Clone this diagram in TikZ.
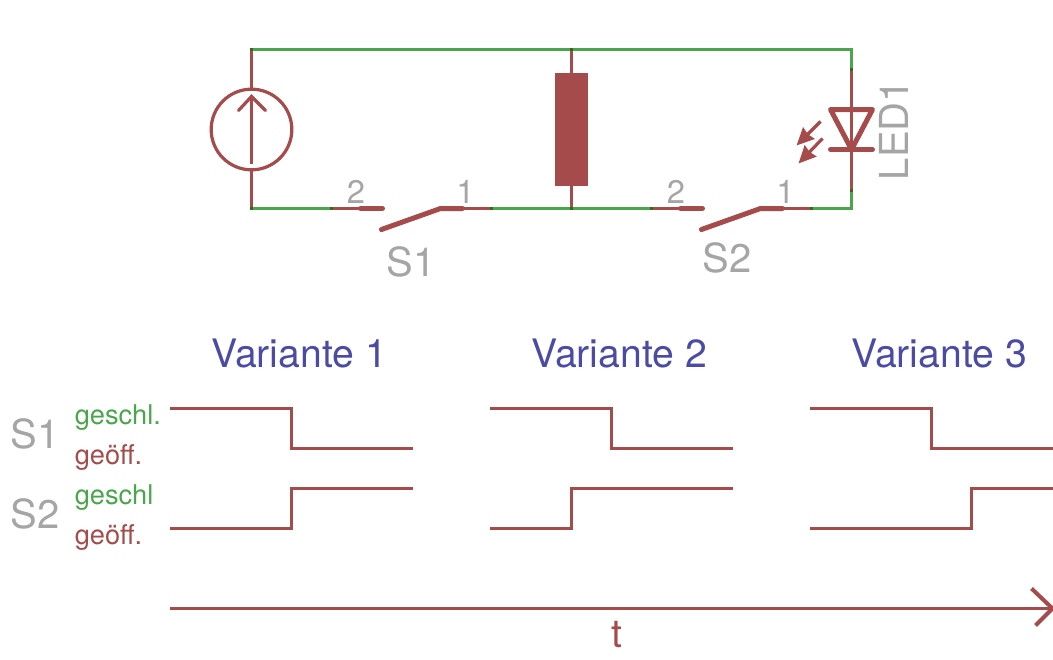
\documentclass[tikz,border=0pt]{standalone}
\usepackage{fontspec}
\setmainfont{TeX Gyre Heros}
\usetikzlibrary{positioning,arrows.meta}
\definecolor{netgreen}{HTML}{4BA54B}
\definecolor{symred}{HTML}{A54B4B}
\definecolor{namegray}{HTML}{A5A5A5}
\definecolor{headblue}{HTML}{4B4BA5}
\definecolor{pindark}{HTML}{2F6A1F}
\begin{document}
\begin{tikzpicture}[x=0.75pt,y=-0.75pt,
    wire/.style={draw=netgreen, line width=2.4pt},
    lead/.style={draw=symred, line width=2.4pt},
    contact/.style={draw=symred, line width=3.75pt, line cap=round},
    signal/.style={draw=symred, line width=2.4pt},
    pin dot/.style={fill=pindark, minimum size=2.4pt, inner sep=0pt},
    name label/.style={text=namegray, font=\fontsize{30}{30}\selectfont, inner sep=0pt, anchor=base west},
    pin label/.style={text=namegray, font=\fontsize{24.5}{24}\selectfont, inner sep=0pt, anchor=base west},
    state label/.style={font=\fontsize{20.4}{20}\selectfont, inner sep=0pt, anchor=base west},
    head label/.style={text=headblue, font=\fontsize{29.4}{29}\selectfont, inner sep=0pt, anchor=base west}]
  \useasboundingbox (-0.5,-0.5) rectangle (1052.5,659.5);

  % corners of the circuit
  \coordinate (tl) at (251,49);
  \coordinate (tm) at (571,49);
  \coordinate (tr) at (851,49);
  \coordinate (bl) at (251,208);
  \coordinate (bm) at (571,208);
  \coordinate (br) at (851,208);

  % source
  \node[circle, draw=symred, line width=2.4pt, minimum size=60.5pt, inner sep=0pt] (source) at (251,129) {};
  \coordinate (sourcetail) at (251,163);
  \coordinate (sourcetip) at (251,96);
  \coordinate (sourcel) at (238,110);
  \coordinate (sourcer) at (265,110);

  % resistor
  \node[rectangle, fill=symred, minimum width=24.75pt, minimum height=84.75pt, inner sep=0pt] (load) at (571,129) {};

  % switches, second one is the first shifted by 320
  \foreach \n/\s in {1/0,2/320} {
    \coordinate (p\n a) at (331+\s,208);
    \coordinate (p\n b) at (360+\s,208);
    \coordinate (p\n c) at (382+\s,208);
    \coordinate (p\n d) at (381+\s,229);
    \coordinate (p\n e) at (440+\s,208);
    \coordinate (p\n f) at (462+\s,208);
    \coordinate (p\n g) at (491+\s,208);
    \path[lead] (p\n a) -- (p\n b);
    \path[contact] (p\n b) -- (p\n c);
    \path[contact] (p\n d) -- (p\n e) -- (p\n f);
    \path[lead] (p\n f) -- (p\n g);
    \node[pin label] (two\n) at (346+\s,203) {2};
    \node[pin label] (one\n) at (455.5+\s,203) {1};
  }
  \node[name label] (s1name) at (386,276) {S1};
  \node[name label] (s2name) at (702,272) {S2};

  % led
  \coordinate (ledtop) at (851,69);
  \coordinate (ledbot) at (851,190);
  \coordinate (ledl) at (830,109);
  \coordinate (ledr) at (872,109);
  \coordinate (ledk) at (851,149);
  \coordinate (barl) at (830,149);
  \coordinate (barr) at (872,149);
  \coordinate (ray1a) at (820,121);
  \coordinate (ray1b) at (796,145);
  \coordinate (ray2a) at (822,138);
  \coordinate (ray2b) at (798,163);
  \node[name label, rotate=90] (ledname) at (908,180) {LED1};

  % nets
  \path[wire] (ledtop) -- (tr) -- (tl);
  \path[wire] (bl) -- (p1a);
  \path[wire] (p1g) -- (p2a);
  \path[wire] (p2g) -- (br) -- (ledbot);
  \path[lead] (tl) -- (source);
  \path[lead] (source) -- (bl);
  \path[lead] (tm) -- (load);
  \path[lead] (load) -- (bm);
  \path[lead] (ledtop) -- (ledbot);
  \path[lead] (sourcetail) -- (sourcetip);
  \path[lead, line cap=round] (sourcel) -- (sourcetip) -- (sourcer);
  \path[contact, line join=round] (ledl) -- (ledr) -- (ledk) -- cycle;
  \path[contact] (barl) -- (barr);
  \path[lead, -{Stealth[inset=1pt,length=13pt,width=12pt]}] (ray1a) -- (ray1b);
  \path[lead, -{Stealth[inset=1pt,length=13pt,width=12pt]}] (ray2a) -- (ray2b);
  \foreach \c in {tl,tm,bl,bm,p1a,p1g,p2a,p2g,ledtop,ledbot}
    \node[pin dot] (dot\c) at (\c) {};

  % timing
  \node[head label] (var1) at (210.5,367) {Variante 1};
  \node[head label] (var2) at (530.5,367) {Variante 2};
  \node[head label] (var3) at (850.5,367) {Variante 3};

  \node[name label] (s1row) at (10,448) {S1};
  \node[name label] (s2row) at (10,528) {S2};
  \node[state label, text=netgreen] (c1) at (74,423.5) {geschl.};
  \node[state label, text=symred] (o1) at (74,463.5) {geöff.};
  \node[state label, text=netgreen] (c2) at (74,503.5) {geschl};
  \node[state label, text=symred] (o2) at (74,543.5) {geöff.};

  \foreach \n/\x/\a/\b in {1/169.5/291/291,2/489.5/611/571,3/809.5/931/971} {
    \coordinate (a\n) at (\x,408);
    \coordinate (b\n) at (\x,528);
    \coordinate (ae\n) at (\x+243,448);
    \coordinate (be\n) at (\x+243,488);
    \path[signal] (a\n) -- (\a,408) -- (\a,448) -- (ae\n);
    \path[signal] (b\n) -- (\b,528) -- (\b,488) -- (be\n);
  }

  \coordinate (tstart) at (169.5,608);
  \coordinate (ttip) at (1052,608);
  \coordinate (tup) at (1031,588);
  \coordinate (tdown) at (1035,625);
  \path[signal] (tstart) -- (ttip);
  \path[signal, line width=3pt] (tup) -- (ttip) -- (tdown);
  \node[head label, text=symred] (tname) at (611,647) {t};
\end{tikzpicture}
\end{document}
